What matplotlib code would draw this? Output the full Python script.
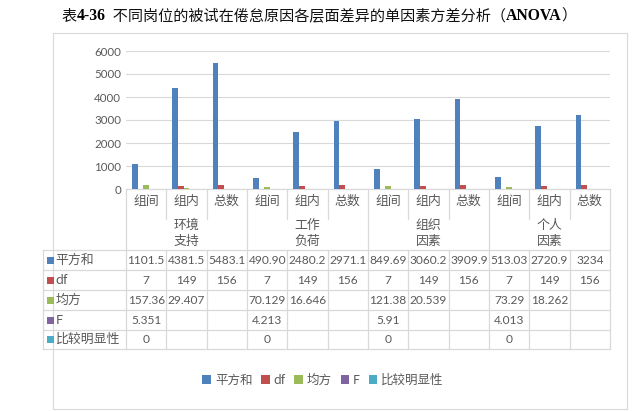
import matplotlib
matplotlib.use('Agg')
import matplotlib.pyplot as plt
from matplotlib.patches import Rectangle, Patch
from matplotlib.lines import Line2D
import matplotlib.transforms as mtransforms

# ---------------- data ----------------
subcats = ["组间", "组内", "总数"] * 4
groups = ["环境\n支持", "工作\n负荷", "组织\n因素", "个人\n因素"]
series_names = ["平方和", "df", "均方", "F", "比较明显性"]
ss_text = ["1101.5", "4381.5", "5483.1", "490.90", "2480.2", "2971.1",
           "849.69", "3060.2", "3909.9", "513.03", "2720.9", "3234"]
df_text = ["7", "149", "156"] * 4
ms_text = ["157.36", "29.407", "", "70.129", "16.646", "",
           "121.38", "20.539", "", "73.29", "18.262", ""]
f_text = ["5.351", "", "", "4.213", "", "", "5.91", "", "", "4.013", "", ""]
sig_text = ["0", "", "", "0", "", "", "0", "", "", "0", "", ""]
yticks = [0, 1000, 2000, 3000, 4000, 5000, 6000]
colors = ["#4F81BD", "#C0504D", "#9BBB59", "#8064A2", "#4BACC6"]
title_parts = [("表", False), ("4-36", True),
               ("  不同岗位的被试在倦怠原因各层面差异的单因素方差分析（", False),
               ("ANOVA", True), ("）", False)]

table_rows = [ss_text, df_text, ms_text, f_text, sig_text]

# ---------------- figure ----------------
W, H = 640, 411
fig = plt.figure(figsize=(6.4, 4.11), dpi=100)
def fx(px): return px / W
def fy(py): return 1 - py / H

CJK = ['Noto Sans CJK SC', 'DejaVu Sans']
NUM = ['Lato', 'Noto Sans CJK SC']
TXT = '#595959'
LINE = '#d9d9d9'

# outer frame
fig.add_artist(Rectangle((fx(53), fy(409)), fx(627) - fx(53), fy(33) - fy(409),
                         transform=fig.transFigure, fill=False, edgecolor=LINE, lw=0.8))

ax = fig.add_axes([fx(126), fy(189), fx(610) - fx(126), fy(51) - fy(189)])
ax.set_xlim(-0.5, 11.5)
ax.set_ylim(0, 6000)
ax.set_yticks(yticks)
ax.set_xticks([])
for s in ax.spines.values():
    s.set_visible(False)
ax.grid(axis='y', color=LINE, lw=0.8)
ax.set_axisbelow(True)
ax.tick_params(axis='y', length=0, labelsize=8.3, colors=TXT, pad=3.5)
for lab in ax.get_yticklabels():
    lab.set_family(NUM)

# bars
bw = 0.14
for i, rows in enumerate(table_rows):
    xs, vs = [], []
    for k, t in enumerate(rows):
        if t != "":
            xs.append(k - 0.28 + i * bw)
            vs.append(float(t))
    ax.bar(xs, vs, width=bw, color=colors[i], zorder=3)

# ---------------- table ----------------
trans = mtransforms.blended_transform_factory(ax.transData, fig.transFigure)
def dline(x0, x1, y0, y1):
    ax.add_line(Line2D([x0, x1], [y0, y1], transform=trans, color=LINE, lw=0.9, clip_on=False))
def fline(x0, x1, y0, y1):
    fig.add_artist(Line2D([fx(x0), fx(x1)], [fy(y0), fy(y1)], transform=fig.transFigure,
                          color=LINE, lw=0.9))

row_y = [250, 270, 290, 310, 330, 349]
dline(-0.5, 11.5, fy(189), fy(189))
for y in row_y:
    dline(-0.5, 11.5, fy(y), fy(y))
    fline(43, 126, y, y)
fline(43, 43, 250, 349)
for k in range(13):
    xb = k - 0.5
    if k % 3 == 0:
        dline(xb, xb, fy(189), fy(349))
    else:
        dline(xb, xb, fy(189), fy(219))
        dline(xb, xb, fy(250), fy(349))

for k, s in enumerate(subcats):
    ax.text(k, fy(201), s, transform=trans, ha='center', va='center',
            fontsize=9.3, color=TXT, family=CJK, fontweight='light')
for g, name in enumerate(groups):
    l1, l2 = name.split("\n")
    ax.text(g * 3 + 1, fy(225), l1, transform=trans, ha='center', va='center',
            fontsize=9.3, color=TXT, family=CJK, fontweight='light')
    ax.text(g * 3 + 1, fy(241), l2, transform=trans, ha='center', va='center',
            fontsize=9.3, color=TXT, family=CJK, fontweight='light')

for r, rows in enumerate(table_rows):
    yc = (row_y[r] + row_y[r + 1]) / 2
    for k, t in enumerate(rows):
        if t:
            ax.text(k, fy(yc), t, transform=trans, ha='center', va='center',
                    fontsize=8.6, color=TXT, family=NUM)
    fig.add_artist(Rectangle((fx(47), fy(yc + 3.5)), fx(7), 7 / H,
                             transform=fig.transFigure, color=colors[r], lw=0))
    fig.text(fx(55.5), fy(yc), series_names[r], ha='left', va='center',
             fontsize=9.3, color=TXT, family=CJK)

# legend
handles = [Patch(facecolor=c, edgecolor='none') for c in colors]
leg = fig.legend(handles, series_names, loc='center', bbox_to_anchor=(fx(323), fy(380)),
                 ncol=5, frameon=False, fontsize=9, handlelength=0.7, handleheight=0.7,
                 handletextpad=0.3, columnspacing=0.7)
for t in leg.get_texts():
    t.set_color(TXT)
    t.set_family(CJK)

# ---------------- title ----------------
fig.canvas.draw()
renderer = fig.canvas.get_renderer()
objs = []
for txt, bold in title_parts:
    if bold:
        t = fig.text(0, fy(16), txt, fontsize=11.3, fontweight='bold',
                     family=['Liberation Serif'], ha='left', va='center', color='black')
    else:
        t = fig.text(0, fy(16), txt, fontsize=10.9, family=CJK, ha='left', va='center',
                     color='#111111')
    objs.append(t)
widths = [o.get_window_extent(renderer).width for o in objs]
total = sum(widths)
x = 319 - total / 2
for o, w in zip(objs, widths):
    o.set_x(fx(x))
    x += w

fig.savefig('out.png', dpi=100)
